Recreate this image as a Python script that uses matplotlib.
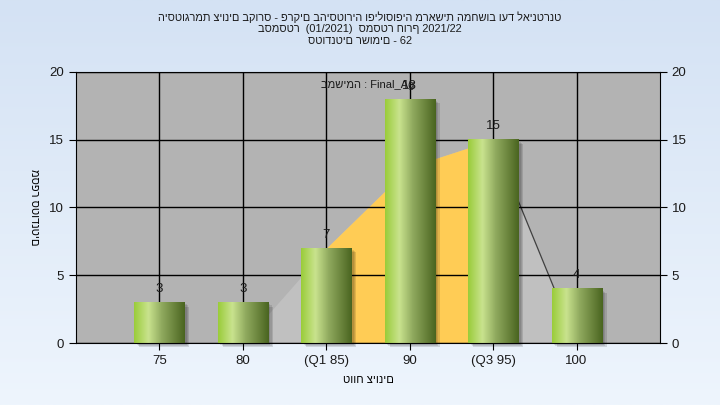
import numpy as np
import matplotlib
matplotlib.use('Agg')
import matplotlib.pyplot as plt
from matplotlib.colors import LinearSegmentedColormap

plt.rcParams['font.family'] = ['Liberation Sans', 'DejaVu Sans']

# Données
categories = ['75', '80', '(Q1 85)', '90', '(Q3 95)', '100']
counts = [3, 3, 7, 18, 15, 4]
curve = [0, 0, 7, 13, 15, 0]  # surface en arriere-plan
q1_idx, q3_idx = 2, 4

title_lines = [
    'היסטוגרמת ציונים בקורס - פרקים בהיסטוריה ופילוסופיה מראשית המחשוב ועד לאינטרנט',
    'בסמסטר  (01/2021)  סמסטר חורף 2021/22',
    'סטודנטים רשומים - 62',
]
subtitle = 'במשימה : Final_Ag'
xlabel = 'טווח ציונים'
ylabel = 'מספר סטודנטים'

fig = plt.figure(figsize=(7.2, 4.05), dpi=100)

# Fond en degrade
bg = fig.add_axes([0, 0, 1, 1], zorder=-10)
bg_cmap = LinearSegmentedColormap.from_list('bg', ['#d4e2f4', '#eef5fd'])
bg.imshow(np.linspace(0, 1, 256).reshape(-1, 1), cmap=bg_cmap, aspect='auto',
          extent=[0, 1, 0, 1])
bg.axis('off')

ax = fig.add_axes([76/720, 62/405, 584/720, 271/405])
ax.set_facecolor('#b3b3b3')

x = np.arange(1, len(categories) + 1)

# Surface (gris) et zone Q1-Q3 (orange)
ax.fill_between(x, curve, color='#c0c0c0', zorder=1, linewidth=0)
xs = x[q1_idx:q3_idx + 1]
ax.fill_between(xs, curve[q1_idx:q3_idx + 1], color='#ffcc55', zorder=1.1, linewidth=0)
ax.plot(x[q3_idx:], curve[q3_idx:], color='#404040', lw=0.9, zorder=1.2)
ax.plot(x[:2], curve[:2], color='#d8d8d8', lw=1, zorder=1.2)

ax.grid(True, color='black', lw=1)
ax.set_axisbelow(False)
for gl in ax.get_xgridlines() + ax.get_ygridlines():
    gl.set_zorder(1.5)

# Barres avec degrade + ombre
width = 0.6
bar_cmap = LinearSegmentedColormap.from_list(
    'bar', [(0, '#9acc3a'), (0.28, '#c9e38e'), (0.55, '#8fa95e'), (1.0, '#4a6520')])
grad = np.linspace(0, 1, 128).reshape(1, -1)
for xi, c in zip(x, counts):
    for k, a in enumerate([0.10, 0.10, 0.12]):
        dx = 0.03 + 0.015 * k
        dy = 0.15 + 0.08 * k
        ax.bar(xi + dx, c, width=width, bottom=-dy, color='black', alpha=a,
               zorder=2, linewidth=0, clip_on=False)
    ax.imshow(grad, cmap=bar_cmap, aspect='auto', zorder=3,
              extent=[xi - width/2, xi + width/2, 0, c])
    ax.text(xi, c + 0.55, str(c), ha='center', va='bottom', fontsize=9.5,
            color='#1a1a1a', zorder=4)

ax.set_xlim(0, 7)
ax.set_ylim(0, 20)
ax.set_xticks(x)
ax.set_xticklabels(categories)
ax.set_yticks([0, 5, 10, 15, 20])
ax.tick_params(axis='both', labelsize=9.5, length=5, colors='black', labelcolor='#1a1a1a')
ax.tick_params(axis='y', right=True, labelright=True)

for s in ax.spines.values():
    s.set_color('black')
    s.set_zorder(5)

ax.text(0.5, 1 - 13/271, subtitle, transform=ax.transAxes, ha='center',
        va='center', fontsize=8, color='#1a1a1a', zorder=6)

ax.set_xlabel(xlabel, fontsize=8, labelpad=6)
ax.set_ylabel(ylabel, fontsize=8, rotation=270, va='center')
ax.yaxis.set_label_coords(-0.072, 0.5)

for i, line in enumerate(title_lines):
    fig.text(0.5, 1 - (17 + 12*i)/405, line, ha='center', va='center',
             fontsize=7.9, color='#1a1a1a')

fig.savefig('out.png', dpi=100)
